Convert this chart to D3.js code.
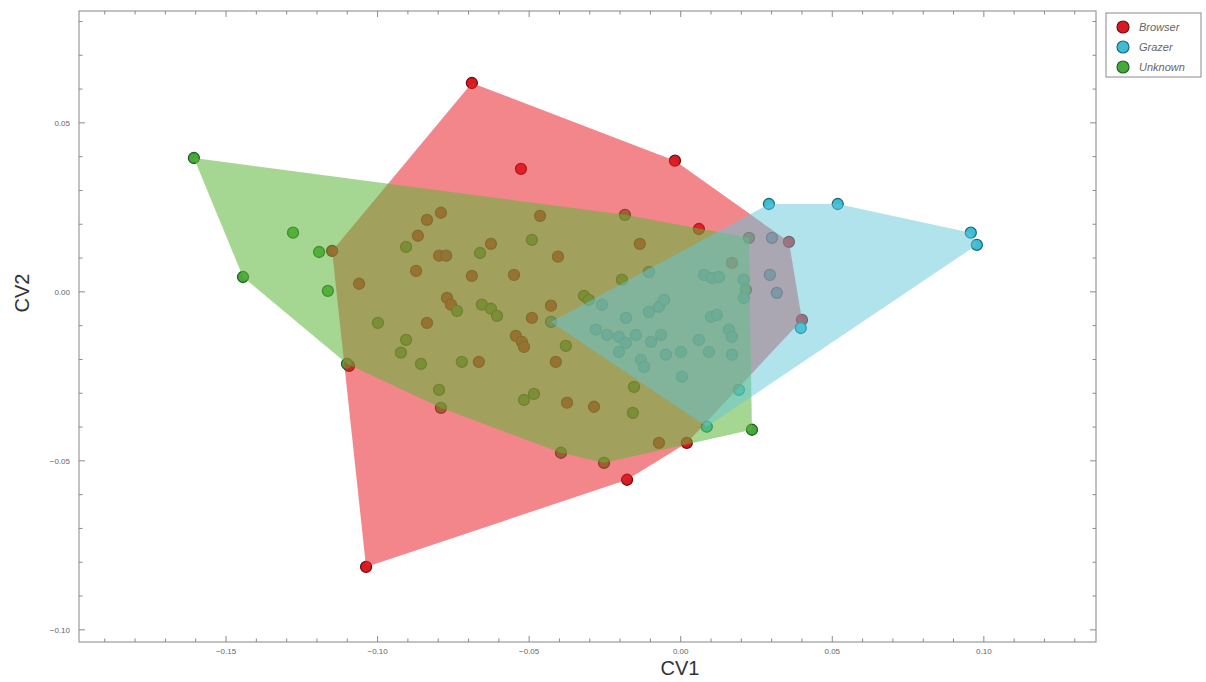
<!DOCTYPE html>
<html>
<head>
<meta charset="utf-8">
<script src="https://cdn.jsdelivr.net/npm/d3@7"></script>
<style>
  html, body { margin: 0; padding: 0; background: #fff; }
  svg { display: block; font-family: "Liberation Sans", Arial, sans-serif; }
</style>
</head>
<body>
<svg id="chart" width="1206" height="682"></svg>
<script>
// group names, shown in the legend
const groups = ['Browser', 'Grazer', 'Unknown'];

// CV1 / CV2 scores
const browser = [
  [-0.0689, 0.0618], [-0.0527, 0.0364], [-0.0019, 0.0388], [0.0357, 0.0148],
  [0.0400, -0.0083], [0.0020, -0.0447], [-0.0177, -0.0556], [-0.1038, -0.0814],
  [-0.1094, -0.0219], [-0.1150, 0.0121], [-0.0791, 0.0234], [-0.0837, 0.0213],
  [-0.0867, 0.0166], [-0.0464, 0.0225], [-0.0797, 0.0107], [-0.0774, 0.0107],
  [-0.0626, 0.0142], [-0.0405, 0.0104], [-0.0873, 0.0062], [-0.0689, 0.0047],
  [-0.0550, 0.0050], [-0.1061, 0.0024], [-0.0771, -0.0018], [-0.0758, -0.0038],
  [-0.0428, -0.0041], [-0.0491, -0.0077], [-0.0837, -0.0092], [-0.0544, -0.0130],
  [-0.0524, -0.0148], [-0.0517, -0.0163], [-0.0666, -0.0207], [-0.0412, -0.0207],
  [-0.0375, -0.0328], [-0.0286, -0.0340], [-0.0072, -0.0447], [-0.0135, 0.0142],
  [0.0060, 0.0186], [0.0169, 0.0086]
];

const grazer = [
  [-0.0428, -0.0089], [0.0291, 0.0260], [0.0518, 0.0260], [0.0957, 0.0175],
  [0.0977, 0.0139], [0.0396, -0.0107], [0.0086, -0.0399], [0.0192, -0.0290],
  [0.0301, 0.0160], [0.0294, 0.0050], [0.0317, -0.0003], [-0.0105, 0.0059],
  [-0.0260, -0.0038], [-0.0280, -0.0112], [-0.0243, -0.0127], [-0.0204, -0.0133],
  [-0.0181, -0.0151], [-0.0204, -0.0178], [-0.0148, -0.0127], [-0.0181, -0.0077],
  [-0.0098, -0.0148], [-0.0065, -0.0127], [-0.0105, -0.0059], [-0.0072, -0.0044],
  [-0.0055, -0.0024], [-0.0049, -0.0186], [-0.0131, -0.0201], [-0.0121, -0.0222],
  [0.0004, -0.0251], [0.0001, -0.0178], [0.0060, -0.0142], [0.0093, -0.0178],
  [0.0077, 0.0050], [0.0103, 0.0041], [0.0126, 0.0044], [0.0100, -0.0074],
  [0.0119, -0.0068], [0.0159, -0.0112], [0.0169, -0.0133], [0.0169, -0.0186],
  [0.0208, 0.0036], [0.0208, -0.0018]
];

const unknown = [
  [-0.1606, 0.0396], [-0.1444, 0.0044], [-0.1279, 0.0175], [-0.1193, 0.0118],
  [-0.1164, 0.0003], [-0.1101, -0.0213], [-0.0906, 0.0133], [-0.0662, 0.0115],
  [-0.0491, 0.0154], [-0.0319, -0.0012], [-0.0303, -0.0024], [-0.0738, -0.0056],
  [-0.0656, -0.0038], [-0.0626, -0.0050], [-0.0606, -0.0071], [-0.0999, -0.0092],
  [-0.0379, -0.0160], [-0.0906, -0.0142], [-0.0923, -0.0180], [-0.0857, -0.0213],
  [-0.0722, -0.0207], [-0.0797, -0.0290], [-0.0791, -0.0343], [-0.0517, -0.0320],
  [-0.0484, -0.0302], [-0.0154, -0.0281], [-0.0158, -0.0358], [-0.0395, -0.0476],
  [-0.0253, -0.0506], [-0.0184, 0.0228], [-0.0194, 0.0036], [0.0235, -0.0408],
  [0.0225, 0.0160], [0.0215, 0.0006]
];

const xTickValues = [-0.15, -0.10, -0.05, 0.00, 0.05, 0.10];
const yTickValues = [0.05, 0.00, -0.05, -0.10];

const pointFill = { Browser: '#d81b22', Grazer: '#3cbdd3', Unknown: '#47a93b' };
const pointStroke = { Browser: '#6e0f10', Grazer: '#1d6b7a', Unknown: '#24602a' };
const hullFill = { Browser: '#e9222c', Grazer: '#62c7da', Unknown: '#5cb638' };
const hullOpacity = { Browser: 0.55, Grazer: 0.5, Unknown: 0.55 };

const svg = d3.select('#chart');
const plotL = 79, plotR = 1096, plotT = 11, plotB = 642;

const x = d3.scaleLinear().domain([-0.1985, 0.137]).range([plotL, plotR]);
const y = d3.scaleLinear().domain([-0.1036, 0.0831]).range([plotB, plotT]);

const fmt = v => d3.format('.2f')(v).replace('-', '\u2212');

const series = [
  { name: 'Browser', pts: browser },
  { name: 'Unknown', pts: unknown },
  { name: 'Grazer', pts: grazer }
];

// points first, the hulls are laid over them
const gp = svg.append('g');
series.forEach(s => {
  gp.selectAll(null)
    .data(s.pts)
    .enter().append('circle')
    .attr('cx', d => x(d[0]))
    .attr('cy', d => y(d[1]))
    .attr('r', 5.5)
    .attr('fill', pointFill[s.name])
    .attr('stroke', pointStroke[s.name])
    .attr('stroke-width', 1.3);
});

const gh = svg.append('g');
series.forEach(s => {
  const hull = d3.polygonHull(s.pts.map(d => [x(d[0]), y(d[1])]));
  gh.append('path')
    .attr('d', 'M' + hull.join('L') + 'Z')
    .attr('fill', hullFill[s.name])
    .attr('fill-opacity', hullOpacity[s.name]);
});

// frame with inward ticks on all sides
svg.append('rect')
  .attr('x', plotL).attr('y', plotT)
  .attr('width', plotR - plotL).attr('height', plotB - plotT)
  .attr('fill', 'none').attr('stroke', '#9a9a9a').attr('stroke-width', 1.2);

const xMinor = d3.range(-0.19, 0.131, 0.01).map(v => +v.toFixed(2));
const yMinor = d3.range(-0.10, 0.081, 0.01).map(v => +v.toFixed(2));
const isMajor = v => Math.abs(Math.round(v * 20) - v * 20) < 1e-6;

const gt = svg.append('g').attr('stroke', '#8a8a8a').attr('stroke-width', 1);
xMinor.forEach(v => {
  const len = isMajor(v) ? 6 : 3.5;
  gt.append('line').attr('x1', x(v)).attr('x2', x(v)).attr('y1', plotB).attr('y2', plotB - len);
  gt.append('line').attr('x1', x(v)).attr('x2', x(v)).attr('y1', plotT).attr('y2', plotT + len);
});
yMinor.forEach(v => {
  const len = isMajor(v) ? 6 : 3.5;
  gt.append('line').attr('y1', y(v)).attr('y2', y(v)).attr('x1', plotL).attr('x2', plotL + len);
  gt.append('line').attr('y1', y(v)).attr('y2', y(v)).attr('x1', plotR).attr('x2', plotR - len);
});

svg.append('g').selectAll('text')
  .data(xTickValues)
  .enter().append('text')
  .attr('x', d => x(d))
  .attr('y', plotB + 12)
  .attr('text-anchor', 'middle')
  .attr('fill', '#666')
  .style('font-size', '8px')
  .text(fmt);

svg.append('g').selectAll('text')
  .data(yTickValues)
  .enter().append('text')
  .attr('x', plotL - 9)
  .attr('y', d => y(d) + 3)
  .attr('text-anchor', 'end')
  .attr('fill', '#666')
  .style('font-size', '8px')
  .text(fmt);

svg.append('text')
  .attr('x', 680).attr('y', 675)
  .attr('text-anchor', 'middle')
  .attr('fill', '#333')
  .style('font-size', '20px')
  .text('CV1');

svg.append('text')
  .attr('transform', 'translate(29,293) rotate(-90)')
  .attr('text-anchor', 'middle')
  .attr('fill', '#333')
  .style('font-size', '20px')
  .text('CV2');

// legend
const lg = svg.append('g').attr('transform', 'translate(1106,13)');
lg.append('rect')
  .attr('width', 95).attr('height', 64)
  .attr('fill', '#fff').attr('stroke', '#8a8a8a');
groups.forEach((g, i) => {
  const cy = 14 + i * 20;
  lg.append('circle')
    .attr('cx', 17).attr('cy', cy).attr('r', 6)
    .attr('fill', pointFill[g]).attr('stroke', pointStroke[g]).attr('stroke-width', 1.2);
  lg.append('text')
    .attr('x', 33).attr('y', cy + 4)
    .attr('fill', '#666')
    .style('font-size', '11px')
    .style('font-style', 'italic')
    .text(g);
});
</script>
</body>
</html>
